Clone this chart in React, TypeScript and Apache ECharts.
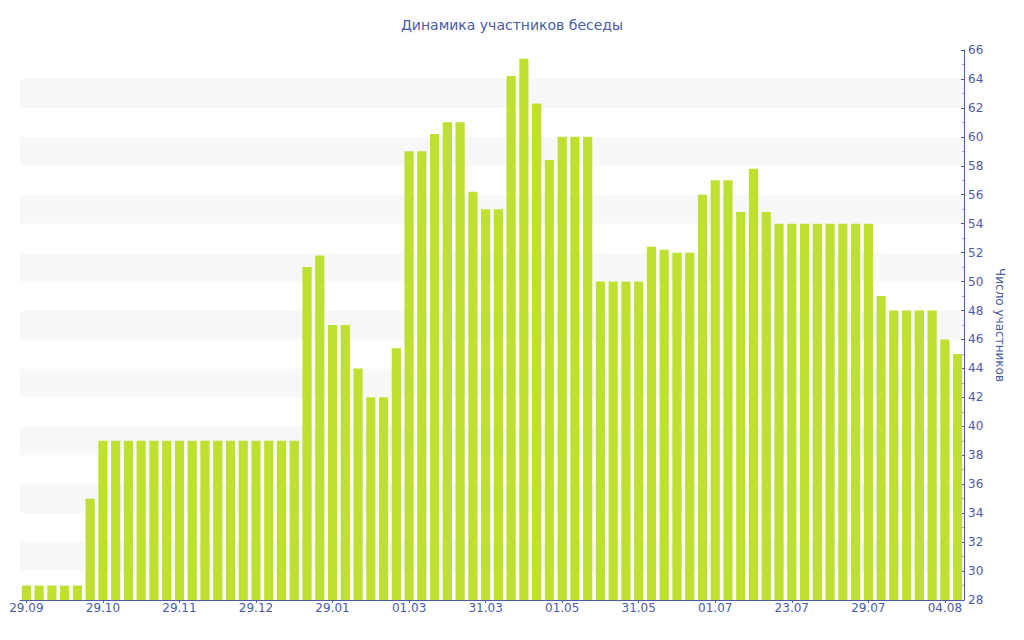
import React, { useEffect, useRef } from "react";
import * as echarts from "echarts";

const tickLabels = ["29.09", "29.10", "29.11", "29.12", "29.01", "01.03", "31.03", "01.05", "31.05", "01.07", "23.07", "29.07", "04.08"];

const values = [
  29, 29, 29, 29, 29, 35,
  39, 39, 39, 39, 39, 39, 39, 39, 39, 39, 39, 39, 39, 39, 39, 39,
  51, 51.8, 47, 47, 44, 42, 42, 45.4,
  59, 59, 60.2, 61, 61, 56.2, 55, 55, 64.2, 65.4, 62.3, 58.4, 60, 60, 60,
  50, 50, 50, 50, 52.4, 52.2, 52, 52, 56, 57, 57, 54.8, 57.8, 54.8,
  54, 54, 54, 54, 54, 54, 54, 54,
  49, 48, 48, 48, 48, 46, 45,
];

const categories = values.map((_, i) => (i % 6 === 0 ? tickLabels[i / 6] ?? "" : ""));

const TITLE = "Динамика участников беседы";
const Y_NAME = "Число участников";
const BLUE = "#4a5ba8";
const FONT = "DejaVu Sans";

export default function App() {
  const ref = useRef<HTMLDivElement>(null);
  useEffect(() => {
    if (!ref.current) return;
    const chart = echarts.init(ref.current, undefined, { renderer: "svg" });
    chart.setOption({
      animation: false,
      backgroundColor: "#ffffff",
      title: {
        text: TITLE,
        left: "center",
        top: 13,
        textStyle: { color: BLUE, fontFamily: FONT, fontSize: 14, fontWeight: "normal" },
      },
      grid: { left: 20, right: 60, top: 50, bottom: 40 },
      xAxis: {
        type: "category",
        data: categories,
        boundaryGap: true,
        axisLine: { lineStyle: { color: BLUE, width: 1 } },
        axisTick: { show: true, interval: 5, alignWithLabel: true, length: 3, lineStyle: { color: BLUE } },
        axisLabel: { interval: 5, color: BLUE, fontFamily: FONT, fontSize: 12, margin: 2 },
        splitLine: { show: false },
      },
      yAxis: {
        type: "value",
        position: "right",
        min: 28,
        max: 66,
        interval: 2,
        name: Y_NAME,
        nameLocation: "middle",
        nameRotate: -90,
        nameGap: 30,
        nameTextStyle: { color: BLUE, fontFamily: FONT, fontSize: 12 },
        axisLine: { show: true, lineStyle: { color: BLUE, width: 1 } },
        axisTick: { show: true, inside: true, length: 3, lineStyle: { color: BLUE } },
        minorTick: { show: true, splitNumber: 2, length: 2, lineStyle: { color: "#9aa5cf" } },
        axisLabel: { color: BLUE, fontFamily: FONT, fontSize: 12, margin: 4 },
        splitLine: { show: false },
        splitArea: { show: true, areaStyle: { color: ["#ffffff", "#f8f8f8"] } },
      },
      series: [
        {
          type: "bar",
          data: values,
          barCategoryGap: "28%",
          itemStyle: { color: "#bde031" },
        },
      ],
    });
    return () => chart.dispose();
  }, []);
  return <div ref={ref} style={{ position: "fixed", left: 0, top: 0, width: 1024, height: 640 }} />;
}
